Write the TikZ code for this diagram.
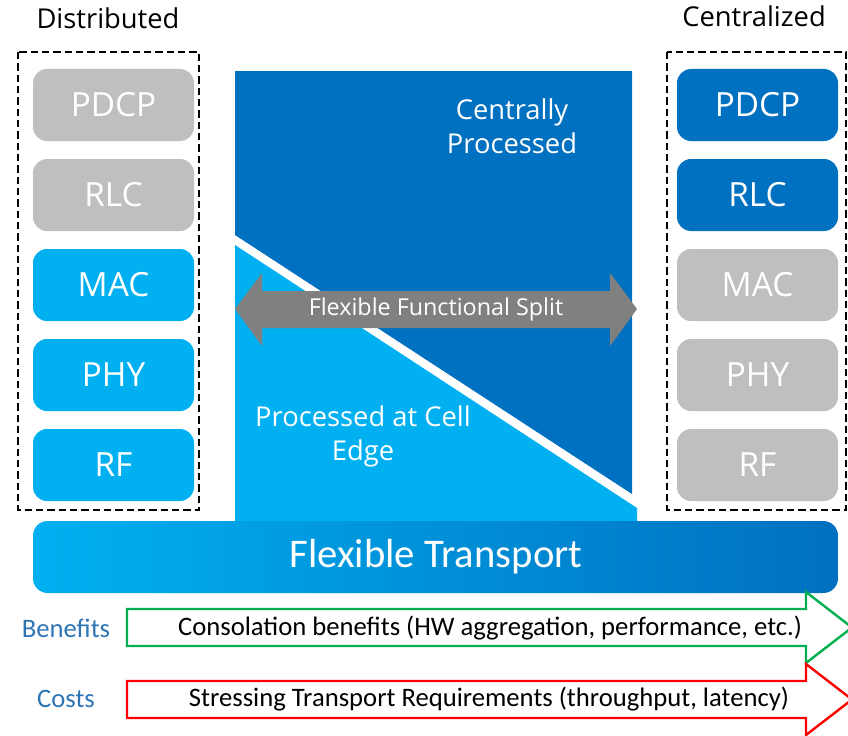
\documentclass[tikz,border=0pt]{standalone}
\usepackage{fontspec}
\setmainfont{Open Sans}
\newfontfamily\carl{Carlito}
\definecolor{lblue}{HTML}{00B0F0}
\definecolor{dblue}{HTML}{0070C0}
\definecolor{lgray}{HTML}{BFBFBF}
\definecolor{agray}{HTML}{808080}
\definecolor{agreen}{HTML}{00B050}
\definecolor{ared}{HTML}{FF0000}
\definecolor{lbl}{HTML}{2E75B6}
\begin{document}
\begin{tikzpicture}[x=0.75pt,y=-0.75pt,
  layer/.style={rounded corners=10.5pt,minimum width=120.75pt,minimum height=54pt,inner sep=0pt,text=white,font=\fontsize{25}{30}\selectfont},
  grayl/.style={layer,fill=lgray},
  lbluel/.style={layer,fill=lblue},
  dbluel/.style={layer,fill=dblue},
  dashbox/.style={draw=black,dashed,dash pattern=on 5.5pt off 3pt,line width=1.1pt},
  title/.style={font=\fontsize{20.5}{24}\selectfont,text=black},
  bigwhite/.style={text=white,font=\fontsize{20.5}{25.5}\selectfont,align=center},
  arrowtext/.style={font=\carl\fontsize{20}{24}\selectfont,text=black},
  sidelbl/.style={font=\carl\fontsize{20}{24}\selectfont,text=lbl}]
\useasboundingbox (0,0) rectangle (848,735);
\clip (0,0) rectangle (848,735);

% titles
\node[title] (tdist) at (108,18) {Distributed};
\node[title] (tcent) at (754,16) {Centralized};

% dashed frames
\draw[dashbox] (18,52) rectangle (199,510);
\draw[dashbox] (667,52) rectangle (846,510);

% left stack
\node[grayl]  (lpdcp) at (113.5,105) {PDCP};
\node[grayl]  (lrlc)  at (113.5,195) {RLC};
\node[lbluel] (lmac)  at (113.5,285) {MAC};
\node[lbluel] (lphy)  at (113.5,375) {PHY};
\node[lbluel] (lrf)   at (113.5,465) {RF};

% right stack
\node[dbluel] (rpdcp) at (757.5,105) {PDCP};
\node[dbluel] (rrlc)  at (757.5,195) {RLC};
\node[grayl]  (rmac)  at (757.5,285) {MAC};
\node[grayl]  (rphy)  at (757.5,375) {PHY};
\node[grayl]  (rrf)   at (757.5,465) {RF};

% central split area
\fill[dblue] (235,71) -- (632,71) -- (632,494) -- (235,235) -- cycle;
\fill[lblue] (235,245) -- (637,508) -- (637,521) -- (235,521) -- cycle;
\node[bigwhite] (cproc) at (512,126) {Centrally\\Processed};
\node[bigwhite] (eproc) at (363,436) {Processed at Cell\\Edge};

% flexible functional split double arrow
\fill[agray] (235,309) -- (262,273) -- (262,291) -- (610,291) -- (610,273) -- (637,309)
  -- (610,346) -- (610,328) -- (262,328) -- (262,346) -- cycle;
\node[text=white,font=\fontsize{17.5}{21}\selectfont] (ffs) at (436,309) {Flexible Functional Split};

% flexible transport bar
\shade[left color=lblue,right color=dblue,rounded corners=11pt] (33,521) rectangle (838,593);
\node[text=white,font=\carl\fontsize{30.5}{36}\selectfont] (ft) at (436,557) {Flexible Transport};

% benefits arrow
\filldraw[draw=agreen,fill=white,line width=1.8pt] (127,609) -- (806,609) -- (806,592) -- (852,627.5)
  -- (806,663) -- (806,646) -- (127,646) -- cycle;
\node[arrowtext] (bt) at (490,628) {Consolation benefits (HW aggregation, performance, etc.)};
\node[sidelbl] (bl) at (66,628) {Benefits};

% costs arrow
\filldraw[draw=ared,fill=white,line width=1.8pt] (127,681) -- (806,681) -- (806,664) -- (852,699.5)
  -- (806,735) -- (806,718) -- (127,718) -- cycle;
\node[arrowtext] (ct) at (489,699) {Stressing Transport Requirements (throughput, latency)};
\node[sidelbl] (cl) at (66,699) {Costs};
\end{tikzpicture}
\end{document}
